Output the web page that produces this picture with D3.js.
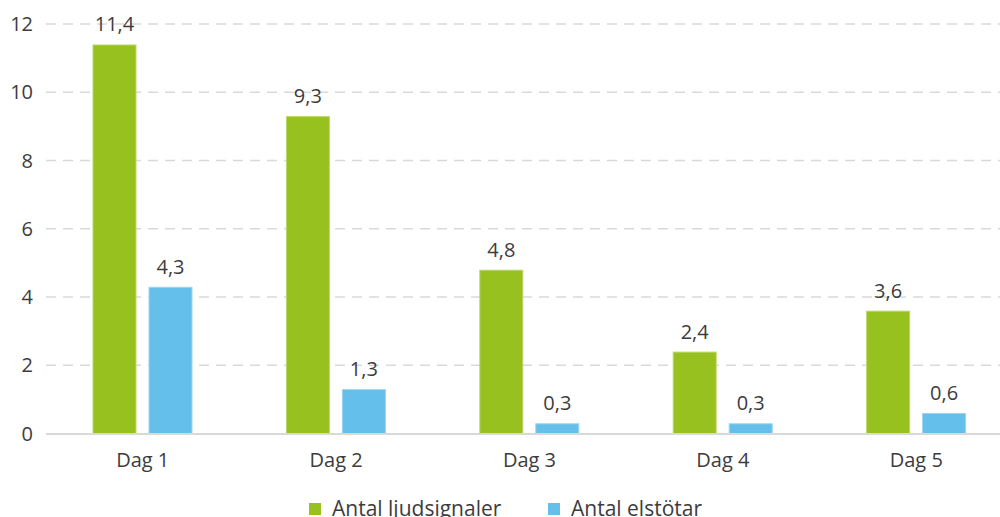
<!DOCTYPE html>
<html>
<head>
<meta charset="utf-8">
<script src="https://cdn.jsdelivr.net/npm/d3@7"></script>
<style>
  body { margin: 0; background: #fff; }
  text { font-family: "Open Sans", "Noto Sans", sans-serif; fill: #3c3c3c; }
</style>
</head>
<body>
<div id="chart"></div>
<script>
const days = ["Dag 1", "Dag 2", "Dag 3", "Dag 4", "Dag 5"];
const seriesNames = ["Antal ljudsignaler", "Antal elstötar"];
const ljudsignaler = [11.4, 9.3, 4.8, 2.4, 3.6];
const elstotar = [4.3, 1.3, 0.3, 0.3, 0.6];
const yTicks = [0, 2, 4, 6, 8, 10, 12];
const colors = ["#97c11f", "#65bfeb"];
const edges = ["#bcd86a", "#9ad4f1"];

const width = 1000, height = 517;
const svg = d3.select("#chart").append("svg").attr("width", width).attr("height", height);

const x = d3.scaleBand().domain(days).range([46, 1013]).paddingInner(0).paddingOuter(0);
const inner = d3.scaleBand().domain(seriesNames).range([46.5, 146.5]).paddingInner(12 / 56).paddingOuter(0);
const y = d3.scaleLinear().domain([0, 12]).range([433.5, 24]);

// grid
svg.append("g").selectAll("line").data(yTicks.filter(t => t > 0)).join("line")
  .attr("x1", 46).attr("x2", width).attr("y1", d => y(d)).attr("y2", d => y(d))
  .attr("stroke", "#d9d9d9").attr("stroke-width", 1.5).attr("stroke-dasharray", "10,7");

// y labels
svg.append("g").selectAll("text").data(yTicks).join("text")
  .attr("x", 33).attr("y", d => y(d)).attr("dy", "0.35em").attr("text-anchor", "end")
  .style("font-size", "20px").text(d => d);

const data = days.map((d, i) => ({ day: d, vals: [ljudsignaler[i], elstotar[i]] }));
const fmt = v => String(v.toFixed(1)).replace(".", ",");

const groups = svg.append("g").selectAll("g").data(data).join("g")
  .attr("transform", d => `translate(${x(d.day)},0)`);

groups.selectAll("rect").data(d => d.vals.map((v, j) => ({ v, s: seriesNames[j], j }))).join("rect")
  .attr("x", d => inner(d.s) + 0.5).attr("width", inner.bandwidth() - 1)
  .attr("y", d => y(d.v) + 0.5).attr("height", d => y(0) - y(d.v) - 0.5)
  .attr("fill", d => colors[d.j]).attr("stroke", d => edges[d.j]).attr("stroke-width", 1);

groups.selectAll("text.val").data(d => d.vals.map((v, j) => ({ v, s: seriesNames[j], j }))).join("text")
  .attr("class", "val")
  .attr("x", d => inner(d.s) + inner.bandwidth() / 2).attr("y", d => y(d.v) - 13)
  .attr("text-anchor", "middle").style("font-size", "20px").text(d => fmt(d.v));

// x axis line
svg.append("line").attr("x1", 46).attr("x2", width).attr("y1", y(0) + 0.5).attr("y2", y(0) + 0.5)
  .attr("stroke", "#d9d9d9").attr("stroke-width", 2);

svg.append("g").selectAll("text").data(days).join("text")
  .attr("x", d => x(d) + x.bandwidth() / 2).attr("y", 467).attr("text-anchor", "middle")
  .style("font-size", "20px").text(d => d);

// legend
const legendX = [309, 548];
const legend = svg.append("g").selectAll("g").data(seriesNames).join("g")
  .attr("transform", (d, i) => `translate(${legendX[i]},503)`);
legend.append("rect").attr("width", 12).attr("height", 12).attr("fill", (d, i) => colors[i]);
legend.append("text").attr("x", 23).attr("y", 13).style("font-size", "21px").text(d => d);
</script>
</body>
</html>
